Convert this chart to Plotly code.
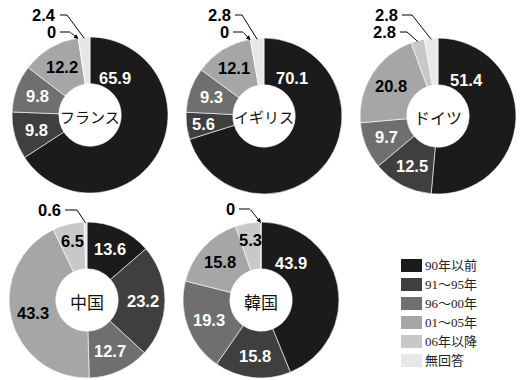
import math
import plotly.graph_objects as go

# Period when the site was established, share of respondents (%), by country
categories = ["90年以前", "91～95年", "96～00年", "01～05年", "06年以降", "無回答"]
countries = ["フランス", "イギリス", "ドイツ", "中国", "韓国"]
france = [65.9, 9.8, 9.8, 12.2, 0, 2.4]
uk = [70.1, 5.6, 9.3, 12.1, 0, 2.8]
germany = [51.4, 12.5, 9.7, 20.8, 2.8, 2.8]
china = [13.6, 23.2, 12.7, 43.3, 6.5, 0.6]
korea = [43.9, 15.8, 19.3, 15.8, 5.3, 0]
series = [france, uk, germany, china, korea]

colors = ["#1b1b1b", "#3f3f3f", "#6f6f6f", "#a6a6a6", "#c8c8c8", "#e7e7e7"]
text_colors = ["white", "white", "white", "black", "black", "black"]

W, H = 520, 380
R = 78
HOLE = 0.40
centers = [(90, 115), (264, 116), (438, 116), (87, 300), (261, 300)]
name_sizes = [15, 15, 16, 17, 17]

# label angle (deg, clockwise from 12 o'clock) and radius for the large first slice
first_label = {0: (34, 45), 1: (36, 47), 2: (39, 46), 4: (39, 48)}
# callouts for thin slices: slice index -> (text right dx, text dy, elbow dx)
callouts = {
    0: {5: (-32, -100, -23), 4: (-32, -83, -20)},
    1: {5: (-31, -101, -22), 4: (-33, -84, -21)},
    2: {5: (-38, -101, -26), 4: (-40, -84, -31)},
    3: {5: (-24, -90, -10)},
    4: {5: (-24, -91, -11)},
}

LABEL_FONT = dict(family="Liberation Sans, Arial, sans-serif", size=16.5)


def px(x, y):
    return x / W, 1 - y / H


def fmt(v):
    return "0" if v == 0 else f"{v:.1f}"


fig = go.Figure()
annotations = []
shapes = []

for k, (name, vals) in enumerate(zip(countries, series)):
    cx, cy = centers[k]
    fig.add_trace(go.Pie(
        labels=categories,
        values=vals,
        hole=HOLE,
        sort=False,
        direction="clockwise",
        rotation=0,
        textinfo="none",
        marker=dict(colors=colors, line=dict(color="white", width=0.6)),
        domain=dict(x=[(cx - R) / W, (cx + R) / W],
                    y=[1 - (cy + R) / H, 1 - (cy - R) / H]),
        showlegend=False,
        hoverinfo="label+value",
    ))

    # country name in the hole
    x0, y0 = px(cx, cy + 1)
    annotations.append(dict(
        x=x0, y=y0, xref="paper", yref="paper", text=name, showarrow=False,
        xanchor="center", yanchor="middle",
        font=dict(family="Noto Sans CJK JP", size=name_sizes[k], color="#111"),
    ))

    total = sum(vals)
    cum = 0.0
    for i, v in enumerate(vals):
        a0 = cum / total * 360
        cum += v
        a1 = cum / total * 360
        mid = (a0 + a1) / 2
        if i in callouts[k]:
            tdx, tdy, edx = callouts[k][i]
            ang = a0 if v == 0 else mid
            rt = R - 1
            tx = cx + rt * math.sin(math.radians(ang))
            ty = cy - rt * math.cos(math.radians(ang))
            lx0, ly = cx + tdx + 2, cy + tdy
            ex = cx + edx
            ax_, ay_ = px(cx + tdx, ly)
            annotations.append(dict(
                x=ax_, y=ay_, xref="paper", yref="paper", text=fmt(v),
                showarrow=False, xanchor="right", yanchor="middle",
                font=dict(LABEL_FONT, color="black", weight="bold"),
            ))
            p0, p1 = px(lx0, ly), px(ex, ly)
            if v == 0:
                shapes.append(dict(
                    type="line", xref="paper", yref="paper",
                    x0=p0[0], y0=p0[1], x1=p1[0], y1=p1[1],
                    line=dict(color="black", width=1),
                ))
                pt = px(tx, ty)
                annotations.append(dict(
                    x=pt[0], y=pt[1], xref="paper", yref="paper", text=" ",
                    showarrow=True, ax=ex - tx, ay=ly - ty,
                    xanchor="center", yanchor="middle",
                    arrowhead=2, arrowsize=0.9, arrowwidth=1, arrowcolor="black",
                    standoff=0, startstandoff=0, borderpad=0, font=dict(size=1),
                ))
            else:
                p2 = px(tx, ty)
                shapes.append(dict(
                    type="path", xref="paper", yref="paper",
                    path=f"M {p0[0]},{p0[1]} L {p1[0]},{p1[1]} L {p2[0]},{p2[1]}",
                    line=dict(color="black", width=1),
                ))
            continue
        if i == 0 and k in first_label:
            ang, rr = first_label[k]
        else:
            ang = mid
            rr = 61 if v < 7 else 56
        lx = cx + rr * math.sin(math.radians(ang))
        ly = cy - rr * math.cos(math.radians(ang))
        qx, qy = px(lx, ly)
        annotations.append(dict(
            x=qx, y=qy, xref="paper", yref="paper", text=fmt(v), showarrow=False,
            xanchor="center", yanchor="middle",
            font=dict(LABEL_FONT, color=text_colors[i], weight="bold"),
        ))

# legend
for i, (cat, col) in enumerate(zip(categories, colors)):
    top = 259 + 19 * i
    a, b = px(401, top)
    c, d = px(422, top + 13)
    shapes.append(dict(type="rect", xref="paper", yref="paper",
                       x0=a, y0=d, x1=c, y1=b, fillcolor=col, line=dict(width=0)))
    tx, ty = px(423, top + 6.5)
    annotations.append(dict(
        x=tx, y=ty, xref="paper", yref="paper", text=cat, showarrow=False,
        xanchor="left", yanchor="middle",
        font=dict(family="Liberation Serif, Noto Sans CJK JP, serif", size=13, color="#222"),
    ))

fig.update_layout(
    width=W, height=H,
    margin=dict(l=0, r=0, t=0, b=0),
    paper_bgcolor="white", plot_bgcolor="white",
    annotations=annotations, shapes=shapes,
    showlegend=False,
)

fig.write_html("out.html")
